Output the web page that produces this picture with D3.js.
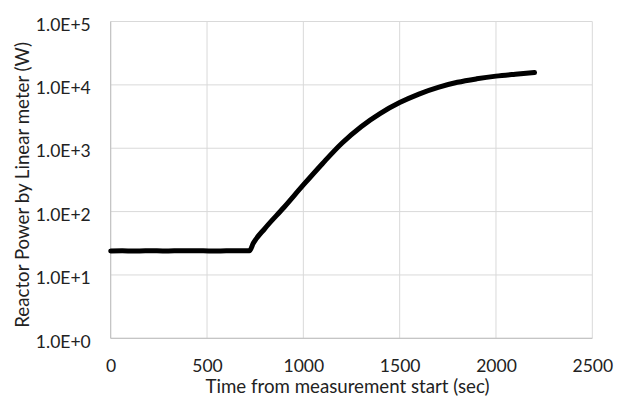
<!DOCTYPE html>
<html>
<head>
<meta charset="utf-8">
<script src="https://cdn.jsdelivr.net/npm/d3@7"></script>
<style>
  body { margin: 0; background: #fff; }
  text { font-family: Lato, "Open Sans", sans-serif; fill: #222; }
</style>
</head>
<body>
<div id="chart"></div>
<script>
// chart data
const timeSec = [0, 60, 120, 180, 240, 300, 360, 420, 480, 540, 600, 660, 720,
  740, 800, 900, 1000, 1100, 1200, 1300, 1400, 1500, 1600, 1700, 1800, 1900, 2000, 2100, 2200];
const powerW = [23.9, 24.0, 23.9, 24.0, 24.0, 23.9, 24.1, 24.0, 24.0, 23.9, 24.0, 24.0, 24.0,
  31.6, 54, 117, 263, 575, 1200, 2190, 3550, 5250, 7160, 9120, 10970, 12450, 13740, 14720, 15630];
const xTicks = [0, 500, 1000, 1500, 2000, 2500];
const yTicks = [1, 10, 100, 1000, 10000, 100000];
const yTickLabels = ["1.0E+0", "1.0E+1", "1.0E+2", "1.0E+3", "1.0E+4", "1.0E+5"];

const width = 623, height = 401;
const margin = {top: 21.5, right: 30.7, bottom: 62.7, left: 110.7};
const w = width - margin.left - margin.right;
const h = height - margin.top - margin.bottom;

let svg = d3.select("#chart").append("svg")
    .attr("width", width)
    .attr("height", height);

let g = svg.append("g")
    .attr("transform", `translate(${margin.left}, ${margin.top})`);

let x = d3.scaleLinear().domain([0, 2500]).range([0, w]);
let y = d3.scaleLog().domain([1, 100000]).range([h, 0]);

// grid
g.append("g").selectAll("line").data(yTicks).enter().append("line")
    .attr("x1", 0).attr("x2", w)
    .attr("y1", d => y(d)).attr("y2", d => y(d))
    .attr("stroke", "#d9d9d9").attr("stroke-width", 1);

g.append("g").selectAll("line").data(xTicks).enter().append("line")
    .attr("y1", 0).attr("y2", h)
    .attr("x1", d => x(d)).attr("x2", d => x(d))
    .attr("stroke", "#d9d9d9").attr("stroke-width", 1);

// axis lines
g.append("line").attr("x1", 0).attr("x2", 0).attr("y1", 0).attr("y2", h)
    .attr("stroke", "#bfbfbf");
g.append("line").attr("x1", 0).attr("x2", w).attr("y1", h).attr("y2", h)
    .attr("stroke", "#bfbfbf");

// tick labels
let xAxis = g.append("g").attr("transform", `translate(0, ${h})`)
    .call(d3.axisBottom(x).tickValues(xTicks).tickSize(0).tickPadding(21).tickFormat(d3.format("d")));
xAxis.select(".domain").remove();
xAxis.selectAll("text").style("font-size", "17.5px").attr("fill", "#222");

let yAxis = g.append("g")
    .call(d3.axisLeft(y).tickValues(yTicks).tickSize(0).tickPadding(20)
      .tickFormat((d, i) => yTickLabels[i]));
yAxis.select(".domain").remove();
yAxis.selectAll("text").style("font-size", "17.5px").attr("fill", "#222").attr("dy", "0.5em");

// the series
let line = d3.line()
    .x((d, i) => x(timeSec[i]))
    .y(d => y(d))
    .curve(d3.curveMonotoneX);

g.append("path")
    .datum(powerW)
    .attr("d", line)
    .attr("fill", "none")
    .attr("stroke", "#000")
    .attr("stroke-width", 5)
    .attr("stroke-linecap", "round")
    .attr("stroke-linejoin", "round");

// axis titles
svg.append("text")
    .attr("x", margin.left + w / 2 - 4)
    .attr("y", 393)
    .style("text-anchor", "middle")
    .style("font-size", "18.7px")
    .text("Time from measurement start (sec)");

svg.append("text")
    .attr("transform", `translate(29, ${margin.top + h / 2 + 5}) rotate(-90)`)
    .style("text-anchor", "middle")
    .style("font-size", "18.7px")
    .text("Reactor Power by Linear meter (W)");
</script>
</body>
</html>
